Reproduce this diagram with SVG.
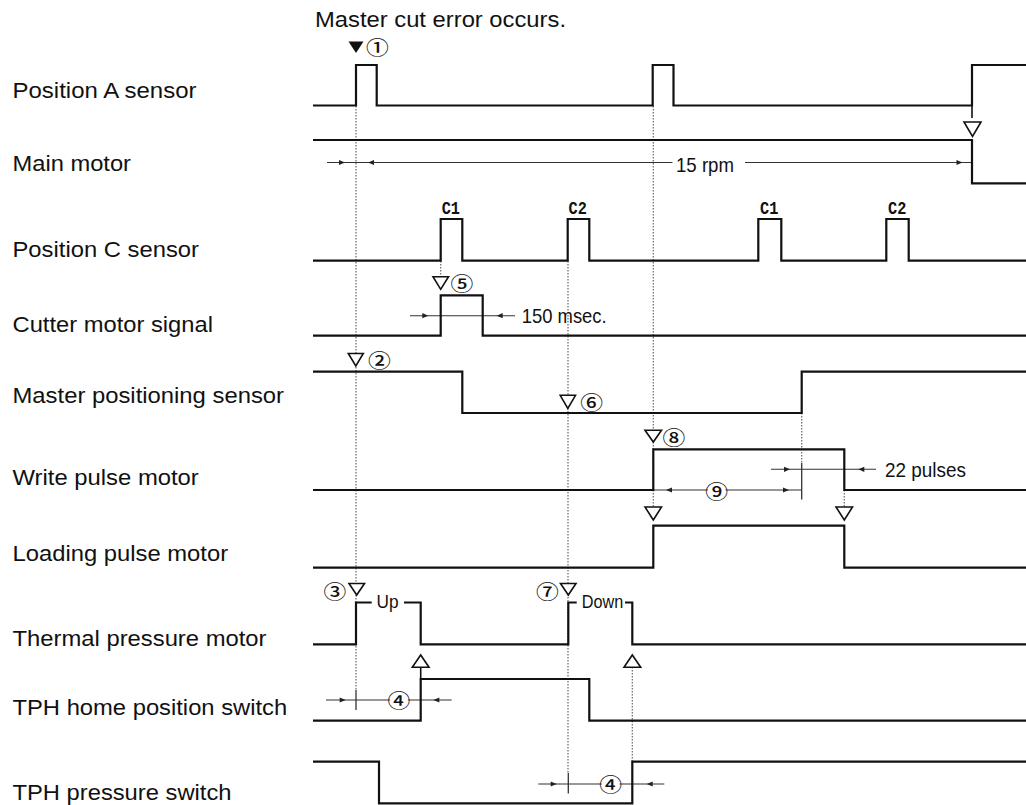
<svg xmlns="http://www.w3.org/2000/svg" xmlns:xlink="http://www.w3.org/1999/xlink" width="1026" height="805" viewBox="0 0 1026 805">
<style>
.lbl{font-family:"Liberation Sans",Arial,sans-serif;font-size:21.5px;fill:#111}
.ann{font-family:"Liberation Sans",Arial,sans-serif;font-size:21px;fill:#111}
.sm{font-family:"Liberation Sans",Arial,sans-serif;font-size:18px;fill:#111}
.cc{font-family:"Liberation Mono","DejaVu Sans Mono",monospace;font-weight:bold;font-size:19px;fill:#111}
.num{font-family:"Noto Sans CJK JP","DejaVu Sans",sans-serif;font-size:19px;font-weight:500;fill:#111;text-anchor:middle;dominant-baseline:central}
.sig{fill:none;stroke:#111;stroke-width:2.2;stroke-linejoin:miter}
.dot{fill:none;stroke:#666;stroke-width:1.2;stroke-dasharray:1.5 1.5}
.dim{fill:none;stroke:#333;stroke-width:1.1}
.tick{fill:none;stroke:#333;stroke-width:1.3}
.tri{fill:#fff;stroke:#111;stroke-width:1.6;stroke-linejoin:miter}
.ah{fill:#222}
</style>
<defs>
<path id="ar" d="M0,0 L-6,-2.6 L-6,2.6 Z"/>
<path id="al" d="M0,0 L6,-2.6 L6,2.6 Z"/>
</defs>
<rect width="1026" height="805" fill="#fff"/>

<text class="lbl" x="315" y="27" textLength="251" lengthAdjust="spacingAndGlyphs">Master cut error occurs.</text>

<g id="connectors">
<path class="dot" d="M356,106 V690"/>
<path class="dot" d="M440.7,261 V277"/>
<path class="dot" d="M568,261 V773"/>
<path class="dot" d="M653.3,106 V507"/>
<path class="dot" d="M801.7,413 V463"/>
<path class="dot" d="M844.3,490 V507"/>
<path class="dot" d="M632.3,667 V761.7"/>
<path class="sig" style="stroke-width:1.6" d="M972,105 V118"/>
<path class="sig" style="stroke-width:1.6" d="M420.7,667 V679"/>
<!-- 15 rpm -->
<path class="dim" d="M327,162.5 H672.5 M745,162.5 H972"/>
<use href="#ar" class="ah" x="345" y="162.5"/>
<use href="#al" class="ah" x="368" y="162.5"/>
<use href="#ar" class="ah" x="962.5" y="162.5"/>
<!-- 150 msec -->
<path class="dim" d="M410,315.7 H515"/>
<use href="#ar" class="ah" x="428.3" y="315.7"/>
<use href="#al" class="ah" x="496.7" y="315.7"/>
<!-- 22 pulses -->
<path class="dim" d="M771,469.3 H876"/>
<use href="#ar" class="ah" x="790" y="469.3"/>
<use href="#al" class="ah" x="858.3" y="469.3"/>
<path class="tick" d="M801.7,463 V499.5"/>
<!-- 9 -->
<path class="dim" d="M653.3,490 H801.7"/>
<use href="#al" class="ah" x="666" y="490"/>
<use href="#ar" class="ah" x="789" y="490"/>
<!-- 4 home -->
<path class="dim" d="M326,700 H451.7"/>
<use href="#ar" class="ah" x="345.7" y="700"/>
<use href="#al" class="ah" x="433.3" y="700"/>
<path class="tick" d="M356,690 V710"/>
<!-- 4 pressure -->
<path class="dim" d="M538.3,784 H664.3"/>
<use href="#ar" class="ah" x="556.7" y="784"/>
<use href="#al" class="ah" x="646.7" y="784"/>
<path class="tick" d="M568.3,773 V793.5"/>
</g>

<g id="position-a-sensor">
<text class="lbl" x="12.5" y="98.3" textLength="184" lengthAdjust="spacingAndGlyphs">Position A sensor</text>
<path class="sig" d="M313,105.5 H356 V65 H376.7 V105.5 H652.7 V65 H673.5 V105.5 H972 V65 H1026"/>
<polygon fill="#111" points="348.5,41.5 363.5,41.5 356,53"/>
<text class="num" transform="translate(377.5,46.5) scale(1.2,1)">①</text>
</g>

<g id="main-motor">
<text class="lbl" x="12.5" y="170.7" textLength="118.5" lengthAdjust="spacingAndGlyphs">Main motor</text>
<path class="sig" d="M313,140 H972 V183.3 H1026"/>
<polygon class="tri" points="964,122 981,122 972.5,136.5"/>
<text class="ann" x="676" y="172" textLength="58" lengthAdjust="spacingAndGlyphs">15 rpm</text>
</g>

<g id="position-c-sensor">
<text class="lbl" x="12.5" y="257.3" textLength="186.5" lengthAdjust="spacingAndGlyphs">Position C sensor</text>
<path class="sig" d="M313,260.7 H440.7 V219 H462.3 V260.7 H567.7 V219 H589.3 V260.7 H758.3 V219 H781.3 V260.7 H886.3 V219 H908.7 V260.7 H1026"/>
<text class="cc" x="441.7" y="213.5" textLength="18.3" lengthAdjust="spacingAndGlyphs">C1</text>
<text class="cc" x="568.5" y="213.5" textLength="18.3" lengthAdjust="spacingAndGlyphs">C2</text>
<text class="cc" x="760" y="213.5" textLength="18.3" lengthAdjust="spacingAndGlyphs">C1</text>
<text class="cc" x="888" y="213.5" textLength="18.3" lengthAdjust="spacingAndGlyphs">C2</text>
</g>

<g id="cutter-motor-signal">
<text class="lbl" x="12.5" y="331.7" textLength="200.5" lengthAdjust="spacingAndGlyphs">Cutter motor signal</text>
<path class="sig" d="M313,335.7 H440.7 V295.3 H482.7 V335.7 H1026"/>
<polygon class="tri" points="433,276.7 448.5,276.7 440.7,289.3"/>
<text class="num" transform="translate(462,283.3) scale(1.2,1)">⑤</text>
<text class="ann" x="521.7" y="322.7" textLength="85" lengthAdjust="spacingAndGlyphs">150 msec.</text>
</g>

<g id="master-positioning-sensor">
<text class="lbl" x="12.5" y="402.7" textLength="271.5" lengthAdjust="spacingAndGlyphs">Master positioning sensor</text>
<path class="sig" d="M313,371.7 H462.3 V413 H801.7 V371.7 H1026"/>
<polygon class="tri" points="348.3,353.5 363.3,353.5 355.8,366"/>
<text class="num" transform="translate(379.3,360) scale(1.2,1)">②</text>
<polygon class="tri" points="560.2,395.3 575.5,395.3 567.8,408.3"/>
<text class="num" transform="translate(591.7,401.7) scale(1.2,1)">⑥</text>
</g>

<g id="write-pulse-motor">
<text class="lbl" x="12.5" y="485" textLength="186.3" lengthAdjust="spacingAndGlyphs">Write pulse motor</text>
<path class="sig" d="M313,490 H653.3 V449.3 H844.3 V490 H1026"/>
<polygon class="tri" points="645,430.3 661.5,430.3 653.3,442"/>
<text class="num" transform="translate(674,436.7) scale(1.2,1)">⑧</text>
<circle cx="716.7" cy="490.5" r="9" fill="#fff"/>
<text class="num" transform="translate(716.7,490.5) scale(1.2,1)">⑨</text>
<text class="ann" x="885" y="477.3" textLength="81" lengthAdjust="spacingAndGlyphs">22 pulses</text>
</g>

<g id="loading-pulse-motor">
<text class="lbl" x="12.5" y="561" textLength="215.6" lengthAdjust="spacingAndGlyphs">Loading pulse motor</text>
<path class="sig" d="M313,567.7 H653.3 V525.7 H844.3 V567.7 H1026"/>
<polygon class="tri" points="645,507 661.5,507 653.3,520"/>
<polygon class="tri" points="836,507 852.5,507 844.3,520"/>
</g>

<g id="thermal-pressure-motor">
<text class="lbl" x="12.5" y="646" textLength="254" lengthAdjust="spacingAndGlyphs">Thermal pressure motor</text>
<path class="sig" d="M313,644.3 H356 V602.5 H371.7 M404,602.5 H420.7 V644.3 H568.3 V602.5 H576.7 M625,602.5 H632.3 V644.3 H1026"/>
<polygon class="tri" points="349,583.5 364.5,583.5 356.7,595"/>
<text class="num" transform="translate(335,591) scale(1.2,1)">③</text>
<polygon class="tri" points="560.5,583.5 576,583.5 568.3,595"/>
<text class="num" transform="translate(547.3,591) scale(1.2,1)">⑦</text>
<text class="sm" x="376.5" y="608.3" textLength="22" lengthAdjust="spacingAndGlyphs">Up</text>
<text class="sm" x="581.7" y="608.3" textLength="41.5" lengthAdjust="spacingAndGlyphs">Down</text>
</g>

<g id="tph-home-position-switch">
<text class="lbl" x="12.5" y="715" textLength="274.7" lengthAdjust="spacingAndGlyphs">TPH home position switch</text>
<path class="sig" d="M313,720.7 H420.7 V679 H589.3 V720.7 H1026"/>
<polygon class="tri" points="412.3,667.3 429,667.3 420.7,655"/>
<polygon class="tri" points="624,667.3 640.7,667.3 632.3,655"/>
<circle cx="399" cy="700" r="9" fill="#fff"/>
<text class="num" transform="translate(399,700) scale(1.2,1)">④</text>
</g>

<g id="tph-pressure-switch">
<text class="lbl" x="12.5" y="800" textLength="219" lengthAdjust="spacingAndGlyphs">TPH pressure switch</text>
<path class="sig" d="M313,761.7 H379 V803.3 H632.3 V761.7 H1026"/>
<circle cx="610.7" cy="784" r="9" fill="#fff"/>
<text class="num" transform="translate(610.7,784) scale(1.2,1)">④</text>
</g>
</svg>
